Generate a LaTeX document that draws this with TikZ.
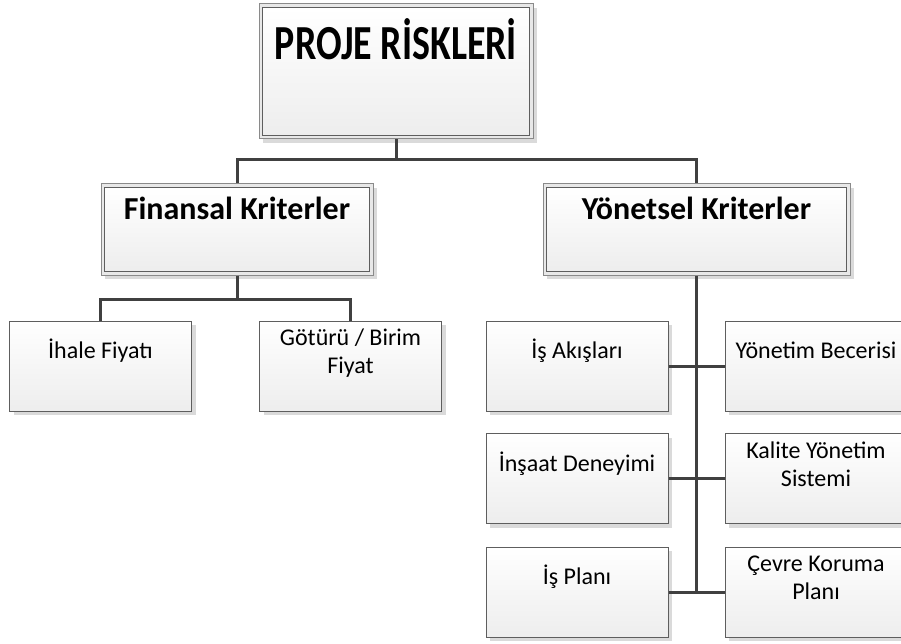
\documentclass[tikz,border=0pt]{standalone}
\usepackage{fontspec}
\setmainfont{Carlito}
\usetikzlibrary{shadows}

\definecolor{edgegray}{HTML}{5E5E5E}
\definecolor{outergray}{HTML}{8A8A8A}
\definecolor{conngray}{HTML}{404040}
\definecolor{shadowgray}{HTML}{DADADA}

\tikzset{
  boxshadow/.style={drop shadow={shadow xshift=4pt, shadow yshift=-4pt,
      fill=shadowgray, opacity=1}},
  % plain leaf box
  leafbox/.style={rectangle, draw=edgegray, line width=1pt,
      top color=white, bottom color=black!7, boxshadow,
      minimum width=182pt, minimum height=90pt, inner sep=0pt},
  leaftext/.style={font=\fontsize{24}{28}\selectfont, align=center,
      inner sep=0pt, anchor=base},
  % framed box with an inner rim
  framebox/.style={rectangle, draw=outergray, line width=1pt,
      fill=black!9, boxshadow, inner sep=0pt},
  innerrim/.style={draw=edgegray, line width=1pt,
      top color=white, bottom color=black!7},
  headtext/.style={font=\bfseries\fontsize{32}{36}\selectfont, inner sep=0pt, anchor=base},
  titletext/.style={font=\bfseries\fontsize{48}{54}\selectfont, inner sep=0pt, anchor=base},
  conn/.style={draw=conngray, line width=3pt},
}

% one-line leaf: baseline 38pt below the top edge
\newcommand{\leaf}[3]{%
  \node[leafbox] (#1) at (#2) {};
  \node[leaftext] (#1-t) at ([yshift=-38pt]#1.north) {#3};
}
% two-line leaf: baselines 25pt and 53pt below the top edge
\newcommand{\leafii}[4]{%
  \node[leafbox] (#1) at (#2) {};
  \node[leaftext] (#1-t) at ([yshift=-25pt]#1.north)
    {\begin{tabular}[t]{@{}c@{}}#3\\[0pt]#4\end{tabular}};
}
\newcommand{\rim}[1]{%
  \path[innerrim] ([shift={(4,4)}]#1.north west) rectangle ([shift={(-4,-4)}]#1.south east);
}

\begin{document}
\begin{tikzpicture}[x=1pt, y=-1pt]
  \useasboundingbox (0,0) rectangle (901,644);

  % root
  \node[framebox, minimum width=274pt, minimum height=135pt] (root) at (396,71.5) {};
  \rim{root}
  \node[titletext] (root-t) at (396,60) {\scalebox{0.79}[1.02]{PROJE RİSKLERİ}};

  % second level
  \node[framebox, minimum width=272pt, minimum height=91pt] (fin) at (237,229.5) {};
  \rim{fin}
  \node[headtext] (fin-t) at (237,220) {Finansal Kriterler};

  \node[framebox, minimum width=307pt, minimum height=91pt] (yon) at (696.5,229.5) {};
  \rim{yon}
  \node[headtext] (yon-t) at (696.5,220) {Yönetsel Kriterler};

  % leaves
  \leaf{ihale}{100.5,366}{İhale Fiyatı}
  \leafii{gotur}{350.5,366}{Götürü / Birim}{Fiyat}
  \leaf{akis}{577,366}{İş Akışları}
  \leaf{becer}{816,366}{Yönetim Becerisi}
  \leaf{insaat}{577,478.5}{İnşaat Deneyimi}
  \leafii{kalite}{816,478.5}{Kalite Yönetim}{Sistemi}
  \leaf{plan}{577,592}{İş Planı}
  \leafii{cevre}{816,592}{Çevre Koruma}{Planı}

  % connectors
  \coordinate (bus1) at (root.south |- 0,160);
  \coordinate (bus2) at (fin.south |- 0,299);
  \coordinate (spine) at (yon.south |- cevre.west);
  \draw[conn] (root.south) -- (bus1);
  \draw[conn] (fin.north) |- (bus1) -| (yon.north);
  \draw[conn] (fin.south) -- (bus2);
  \draw[conn] (ihale.north) |- (bus2) -| (gotur.north);
  \draw[conn] (yon.south) -- (spine);
  \draw[conn] (akis.east) -- (becer.west);
  \draw[conn] (insaat.east) -- (kalite.west);
  \draw[conn] (plan.east) -- (cevre.west);
\end{tikzpicture}
\end{document}
